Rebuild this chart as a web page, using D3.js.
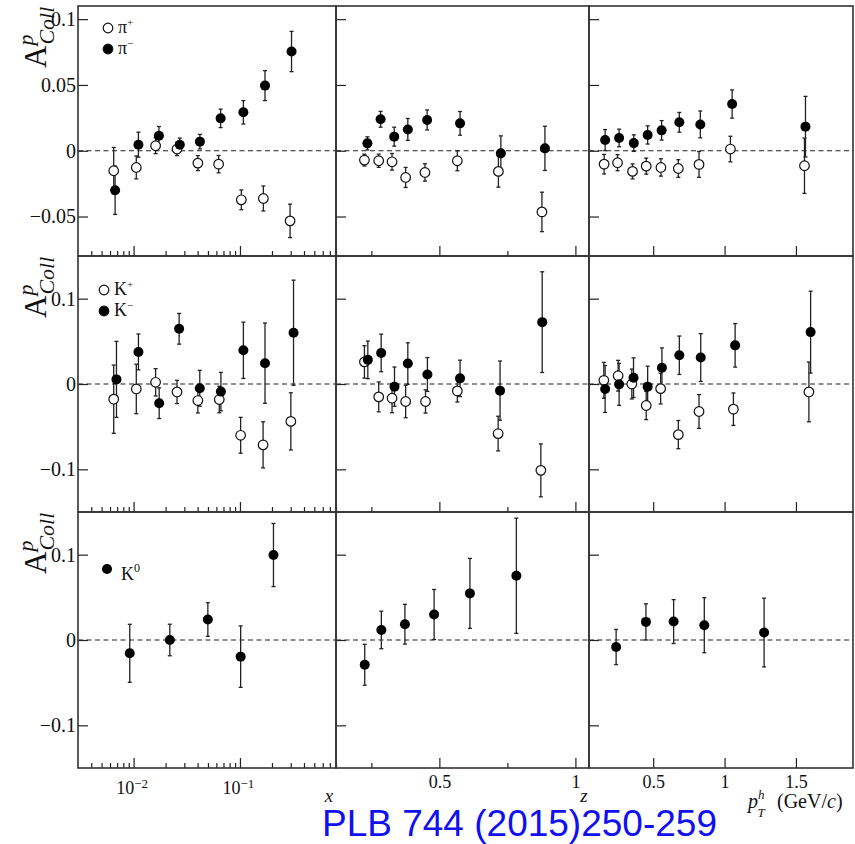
<!DOCTYPE html>
<html>
    <head>
        <meta charset="utf-8">
        <style>
        body {
            margin: 0;
            background: #fff;
        }
        svg text {
            font-family: "Liberation Serif", "DejaVu Serif", serif;
            fill: #111;
        }
        .axis .domain {
            display: none;
        }
        .axis .tick line {
            stroke: #222;
            stroke-width: 1.2;
        }
        .axis .tick text {
            font-size: 18px;
            font-family: "Liberation Serif", serif;
            fill: #111;
        }
        .yaxis .tick text {
            font-size: 20px;
        }
        .frame {
            fill: none;
            stroke: #333;
            stroke-width: 1.6;
        }
        .zero {
            stroke: #222;
            stroke-width: 1.2;
            stroke-dasharray: 5,3.5;
        }
        .err {
            stroke: #222;
            stroke-width: 1.3;
        }
        </style>
        <script src="https://d3js.org/d3.v7.min.js"></script>
    </head>
    <body>
        <div class="graph"></div>
        <script type="text/javascript">

            // [bin centre, asymmetry, error]
            var piPlusX = [[0.0065,-0.0152,0.0177],[0.0106,-0.0127,0.0087],[0.0161,0.0038,0.006],[0.0256,0.0013,0.005],
                [0.0402,-0.0094,0.0057],[0.063,-0.0102,0.0066],[0.103,-0.0373,0.0075],[0.166,-0.0363,0.0095],[0.296,-0.0533,0.0127]];
            var piMinusX = [[0.0067,-0.030,0.0184],[0.0111,0.0046,0.0095],[0.0173,0.0114,0.007],[0.0272,0.0046,0.005],
                [0.042,0.0069,0.0055],[0.0658,0.0246,0.007],[0.1077,0.0292,0.0089],[0.172,0.0495,0.0114],[0.3055,0.0754,0.0153]];
            var piPlusZ = [[0.2245,-0.0071,0.0045],[0.277,-0.0076,0.005],[0.326,-0.0084,0.0063],[0.376,-0.0203,0.0076],
                [0.447,-0.0165,0.0066],[0.566,-0.0076,0.0076],[0.717,-0.0157,0.012],[0.877,-0.0465,0.015]];
            var piMinusZ = [[0.2355,0.0056,0.005],[0.284,0.0239,0.006],[0.334,0.0107,0.0072],[0.384,0.0162,0.0083],
                [0.455,0.0234,0.0076],[0.576,0.0208,0.009],[0.726,-0.002,0.0133],[0.888,0.0018,0.0168]];
            var piPlusPt = [[0.156,-0.0102,0.0074],[0.25,-0.0091,0.0061],[0.355,-0.0157,0.0057],[0.451,-0.0117,0.0061],
                [0.554,-0.0127,0.0066],[0.676,-0.0135,0.0067],[0.821,-0.0104,0.0098],[1.041,0.0013,0.0097],[1.56,-0.0114,0.021]];
            var piMinusPt = [[0.163,0.0081,0.008],[0.261,0.0097,0.0067],[0.364,0.0058,0.0063],[0.461,0.012,0.0069],
                [0.559,0.0155,0.0074],[0.683,0.0216,0.0075],[0.83,0.02,0.0102],[1.053,0.0355,0.0107],[1.567,0.0183,0.023]];

            var kPlusX = [[0.0065,-0.0178,0.040],[0.0106,-0.0058,0.029],[0.0161,0.002,0.016],[0.0256,-0.0093,0.0136],
                [0.0402,-0.0194,0.0145],[0.0639,-0.0182,0.0155],[0.1015,-0.0601,0.021],[0.165,-0.0713,0.027],[0.301,-0.0438,0.0335]];
            var kMinusX = [[0.0069,0.0054,0.0445],[0.0111,0.0376,0.021],[0.0174,-0.0225,0.018],[0.0268,0.0647,0.018],
                [0.0419,-0.005,0.021],[0.0662,-0.0089,0.0225],[0.1077,0.0395,0.033],[0.172,0.0244,0.047],[0.319,0.0601,0.0616]];
            var kPlusZ = [[0.2245,0.0259,0.019],[0.277,-0.0151,0.0175],[0.326,-0.0167,0.017],[0.376,-0.0205,0.019],
                [0.449,-0.0205,0.0136],[0.566,-0.0081,0.013],[0.716,-0.0581,0.0203],[0.873,-0.1012,0.031]];
            var kMinusZ = [[0.237,0.0283,0.022],[0.286,0.0364,0.022],[0.335,-0.0031,0.023],[0.384,0.024,0.0243],
                [0.456,0.0112,0.0198],[0.576,0.0066,0.0213],[0.723,-0.0078,0.0347],[0.878,0.0725,0.059]];
            var kPlusPt = [[0.154,0.0043,0.021],[0.254,0.0097,0.018],[0.350,0.0,0.0175],[0.451,-0.0252,0.0165],
                [0.552,-0.0054,0.018],[0.676,-0.0593,0.0165],[0.821,-0.0322,0.0198],[1.062,-0.0295,0.019],[1.591,-0.0093,0.035]];
            var kMinusPt = [[0.163,-0.0058,0.0275],[0.261,-0.0004,0.0246],[0.362,0.0074,0.0232],[0.461,-0.0031,0.024],
                [0.561,0.019,0.0233],[0.683,0.0337,0.0225],[0.833,0.031,0.028],[1.074,0.0453,0.0255],[1.603,0.0608,0.048]];

            var k0X = [[0.0092,-0.0156,0.034],[0.0219,0.0,0.0185],[0.0499,0.024,0.0197],[0.1015,-0.0195,0.036],[0.2066,0.0996,0.037]];
            var k0Z = [[0.2256,-0.029,0.024],[0.2867,0.0118,0.022],[0.3734,0.0185,0.0233],[0.4806,0.0299,0.0293],
                [0.6123,0.0546,0.041],[0.783,0.0753,0.0675]];
            var k0Pt = [[0.24,-0.0082,0.0206],[0.449,0.0212,0.0212],[0.643,0.0216,0.0257],[0.858,0.0173,0.0323],[1.277,0.0087,0.0403]];

            // axis ticks
            var xMajor = [0.01, 0.1];
            var xMinor = [0.004,0.005,0.006,0.007,0.008,0.009,0.02,0.03,0.04,0.05,0.06,0.07,0.08,0.09,0.2,0.3,0.4,0.5,0.6,0.7,0.8];
            var zMajor = [0.5, 1];
            var zMinor = [0.25, 0.75];
            var ptMajor = [0.5, 1, 1.5];
            var yTicksPi = [-0.05, 0, 0.05, 0.1];
            var yTicksK = [-0.1, 0, 0.1];

            var citation = "PLB 744 (2015)250-259";

            var W = 855, H = 844;
            var cols = [78, 336, 589, 853];
            var rows = [6, 256, 512, 768];

            var xScales = [
                d3.scaleLog().domain([0.003, 0.8]).range([cols[0], cols[1]]),
                d3.scaleLinear().domain([0.12, 1.05]).range([cols[1], cols[2]]),
                d3.scaleLinear().domain([0.05, 1.9]).range([cols[2], cols[3]])
            ];
            var yScales = [
                d3.scaleLinear().domain([-0.08, 0.11]).range([rows[1], rows[0]]),
                d3.scaleLinear().domain([-0.15, 0.15]).range([rows[2], rows[1]]),
                d3.scaleLinear().domain([-0.15, 0.15]).range([rows[3], rows[2]])
            ];

            // per row: open series per column, filled series per column
            var panels = [
                {open: [piPlusX, piPlusZ, piPlusPt], filled: [piMinusX, piMinusZ, piMinusPt], yticks: yTicksPi},
                {open: [kPlusX, kPlusZ, kPlusPt], filled: [kMinusX, kMinusZ, kMinusPt], yticks: yTicksK},
                {open: [null, null, null], filled: [k0X, k0Z, k0Pt], yticks: yTicksK}
            ];

            var svg = d3.select("body").append("svg")
                .attr("width", W)
                .attr("height", H);

            svg.append("rect").attr("width", W).attr("height", H).attr("fill", "#fff");

            function fmtY(d) {
                return d === 0 ? "0" : d3.format("~g")(d).replace("-", "\u2212");
            }

            panels.forEach(function(p, r) {
                var y = yScales[r];
                xScales.forEach(function(x, c) {
                    var g = svg.append("g");
                    var x0 = x.range()[0], x1 = x.range()[1];

                    // y ticks (inward)
                    g.append("g")
                        .attr("class", "axis yaxis")
                        .attr("transform", "translate(" + x0 + ",0)")
                        .call(d3.axisLeft(y).tickValues(p.yticks).tickSizeInner(-10).tickSizeOuter(0)
                            .tickPadding(2).tickFormat(c === 0 ? fmtY : ""));

                    // x ticks (inward)
                    var bottom = y.range()[0];
                    var major = c === 0 ? xMajor : (c === 1 ? zMajor : ptMajor);
                    var minor = c === 0 ? xMinor : (c === 1 ? zMinor : []);
                    g.append("g")
                        .attr("class", "axis")
                        .attr("transform", "translate(0," + bottom + ")")
                        .call(d3.axisBottom(x).tickValues(minor).tickSizeInner(-5).tickSizeOuter(0).tickFormat(""));
                    var xa = g.append("g")
                        .attr("class", "axis")
                        .attr("transform", "translate(0," + bottom + ")")
                        .call(d3.axisBottom(x).tickValues(major).tickSizeInner(-10).tickSizeOuter(0)
                            .tickPadding(7).tickFormat(r === 2 ? d3.format("~g") : ""));

                    if (r === 2) {
                        xa.selectAll(".tick text").attr("dy", "0.71em");
                        if (c === 0) {
                            xa.selectAll(".tick text").each(function(d) {
                                var t = d3.select(this).text(null).attr("dy", "1.05em").attr("dx", "-2");
                                t.append("tspan").text("10");
                                t.append("tspan").attr("dy", "-0.45em").style("font-size", "13px")
                                    .text("\u2212" + Math.round(-Math.log10(d)));
                            });
                        }
                    }

                    // zero line
                    g.append("line")
                        .attr("class", "zero")
                        .attr("x1", x0).attr("x2", x1)
                        .attr("y1", y(0)).attr("y2", y(0));

                    var series = [p.open[c], p.filled[c]].filter(function(s) { return s; });

                    // error bars
                    series.forEach(function(s) {
                        var eb = g.append("g").selectAll("g").data(s).enter().append("g");
                        eb.append("line").attr("class", "err")
                            .attr("x1", function(d) { return x(d[0]); })
                            .attr("x2", function(d) { return x(d[0]); })
                            .attr("y1", function(d) { return y(d[1] - d[2]); })
                            .attr("y2", function(d) { return y(d[1] + d[2]); });
                        [-1, 1].forEach(function(sgn) {
                            eb.append("line").attr("class", "err")
                                .attr("x1", function(d) { return x(d[0]) - 2; })
                                .attr("x2", function(d) { return x(d[0]) + 2; })
                                .attr("y1", function(d) { return y(d[1] + sgn * d[2]); })
                                .attr("y2", function(d) { return y(d[1] + sgn * d[2]); });
                        });
                    });

                    // markers
                    if (p.open[c]) {
                        g.append("g").selectAll("circle").data(p.open[c]).enter().append("circle")
                            .attr("cx", function(d) { return x(d[0]); })
                            .attr("cy", function(d) { return y(d[1]); })
                            .attr("r", 4.8)
                            .attr("fill", "#fff")
                            .attr("stroke", "#111")
                            .attr("stroke-width", 1.2);
                    }
                    g.append("g").selectAll("circle").data(p.filled[c]).enter().append("circle")
                        .attr("cx", function(d) { return x(d[0]); })
                        .attr("cy", function(d) { return y(d[1]); })
                        .attr("r", 5)
                        .attr("fill", "#000");

                    // frame
                    g.append("rect")
                        .attr("class", "frame")
                        .attr("x", x0).attr("y", y.range()[1])
                        .attr("width", x1 - x0).attr("height", y.range()[0] - y.range()[1]);
                });

                // y title
                var t = svg.append("text")
                    .attr("transform", "translate(46," + (rows[r] + 62) + ") rotate(-90)")
                    .style("font-size", "31px");
                t.append("tspan").text("A");
                t.append("tspan").attr("dy", -13).style("font-size", "22px").style("font-style", "italic").text("p");
                t.append("tspan").attr("dx", -10).attr("dy", 21).style("font-size", "22px").style("font-style", "italic").text("Coll");
            });

            // legends
            function legendEntry(cx, cy, open, name, sup) {
                svg.append("circle")
                    .attr("cx", cx).attr("cy", cy).attr("r", 4.8)
                    .attr("fill", open ? "#fff" : "#000")
                    .attr("stroke", "#111").attr("stroke-width", 1.2);
                var t = svg.append("text")
                    .attr("x", cx + 10).attr("y", cy + 5)
                    .style("font-size", "18px");
                t.append("tspan").text(name);
                t.append("tspan").attr("dy", -7).style("font-size", "11px").text(sup);
            }
            legendEntry(108, 28, true, "\u03c0", "+");
            legendEntry(108, 49, false, "\u03c0", "\u2212");
            legendEntry(104, 290, true, "K", "+");
            legendEntry(104, 311, false, "K", "\u2212");
            svg.append("circle").attr("cx", 107).attr("cy", 569).attr("r", 5).attr("fill", "#000");
            svg.append("text").attr("x", 121).attr("y", 580).style("font-size", "18px")
                .text("K").append("tspan").attr("dy", -8).style("font-size", "12px").text("0");

            // axis titles
            svg.append("text").attr("x", 329).attr("y", 802).attr("text-anchor", "middle")
                .style("font-size", "19px").style("font-style", "italic").text("x");
            svg.append("text").attr("x", 584).attr("y", 802).attr("text-anchor", "middle")
                .style("font-size", "19px").style("font-style", "italic").text("z");
            var pt = svg.append("text").attr("x", 748).attr("y", 808).style("font-size", "20px");
            pt.append("tspan").style("font-style", "italic").text("p");
            pt.append("tspan").attr("dy", -9).style("font-size", "13px").style("font-style", "italic").text("h");
            pt.append("tspan").attr("dx", -7).attr("dy", 18).style("font-size", "13px").style("font-style", "italic").text("T");
            var unit = svg.append("text").attr("x", 777).attr("y", 808).style("font-size", "20px");
            unit.append("tspan").text("(GeV/");
            unit.append("tspan").style("font-style", "italic").text("c");
            unit.append("tspan").text(")");

            svg.append("text")
                .attr("x", 322).attr("y", 836)
                .style("font-family", "'Liberation Sans', Arial, sans-serif")
                .style("font-size", "37px")
                .style("fill", "#1010f0")
                .text(citation);
        </script>
    </body>
</html>
